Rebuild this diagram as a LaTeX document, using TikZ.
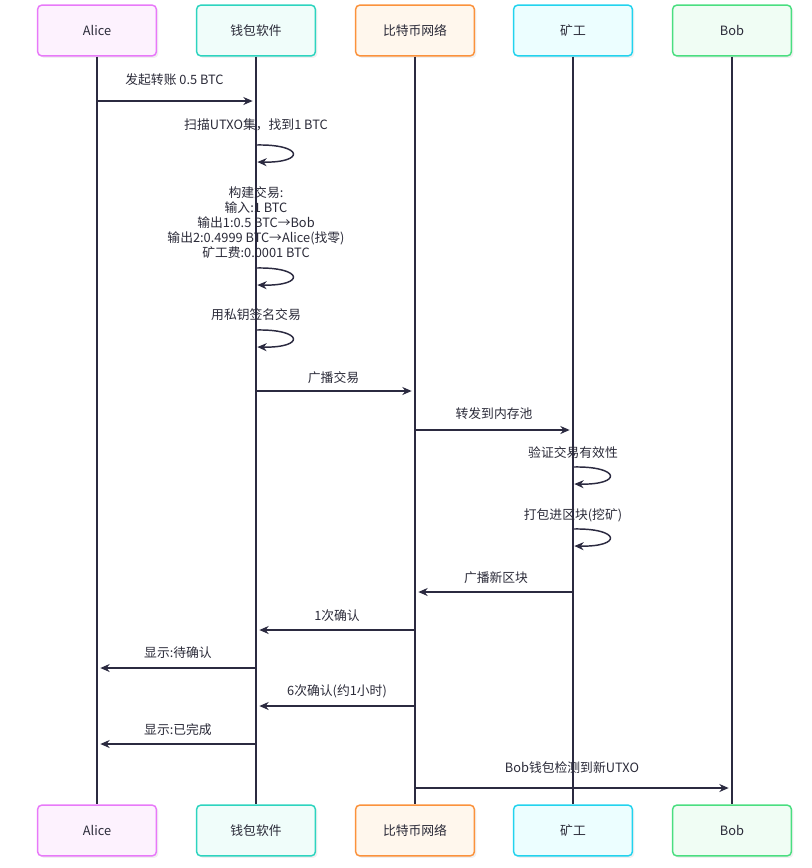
\documentclass[tikz,border=0pt]{standalone}
\usepackage{fontspec}
\setmainfont{Noto Sans CJK SC}
\usetikzlibrary{arrows.meta,shadows,calc}
\definecolor{lineC}{HTML}{2B2A40}
\definecolor{txtC}{HTML}{2A2A38}
\definecolor{aliceB}{HTML}{E879F9}\definecolor{aliceF}{HTML}{FDF2FE}
\definecolor{walB}{HTML}{2DD4BF}\definecolor{walF}{HTML}{F0FDFA}
\definecolor{netB}{HTML}{FB923C}\definecolor{netF}{HTML}{FFF7ED}
\definecolor{minB}{HTML}{22D3EE}\definecolor{minF}{HTML}{ECFEFF}
\definecolor{bobB}{HTML}{4ADE80}\definecolor{bobF}{HTML}{F0FDF4}
\begin{document}
\begin{tikzpicture}[x=0.75pt,y=-0.75pt,
  font=\fontsize{9.6}{11.25}\selectfont, text=txtC,
  actor/.style={draw=#1B, fill=#1F, rounded corners=3pt, line width=1.1pt,
    minimum width=89pt, minimum height=38pt, inner sep=0pt,
    drop shadow={shadow xshift=1.5pt, shadow yshift=-1.5pt, opacity=0.12}},
  life/.style={draw=lineC, line width=1.1pt},
  arr/.style={draw=lineC, line width=1.1pt, -{Stealth[length=7pt,width=6pt]}},
  msg/.style={align=center, inner sep=1pt}]
\useasboundingbox (0,0) rectangle (812,868);
% participants
\node[actor=alice] (aT) at (97,30.5) {Alice};
\node[actor=wal] (wT) at (256,30.5) {钱包软件};
\node[actor=net] (nT) at (415,30.5) {比特币网络};
\node[actor=min] (mT) at (573,30.5) {矿工};
\node[actor=bob] (bT) at (732,30.5) {Bob};
\node[actor=alice] (aB) at (97,830.5) {Alice};
\node[actor=wal] (wB) at (256,830.5) {钱包软件};
\node[actor=net] (nB) at (415,830.5) {比特币网络};
\node[actor=min] (mB) at (573,830.5) {矿工};
\node[actor=bob] (bB) at (732,830.5) {Bob};
\foreach \p in {a,w,n,m,b} \draw[life] (\p T.south) -- (\p B.north);
% messages
\node[msg] (t1) at (174.5,80) {发起转账 0.5 BTC};
\draw[arr] (aT |- 0,101) -- ([xshift=-2.5pt]wT |- 0,101);
\node[msg] (t2) at (256,125) {扫描UTXO集，找到1 BTC};
\draw[arr] (wT |- 0,145) .. controls +(48,-1) and +(48,1) .. ([xshift=1pt]wT |- 0,162);
\node[msg] (t3) at (256,222.5) {构建交易:\\输入:1 BTC\\输出1:0.5 BTC→Bob\\输出2:0.4999 BTC→Alice(找零)\\矿工费:0.0001 BTC};
\draw[arr] (wT |- 0,268) .. controls +(48,-1) and +(48,1) .. ([xshift=1pt]wT |- 0,285);
\node[msg] (t4) at (256,315) {用私钥签名交易};
\draw[arr] (wT |- 0,330) .. controls +(48,-1) and +(48,1) .. ([xshift=1pt]wT |- 0,347);
\node[msg] (t5) at (333.5,378) {广播交易};
\draw[arr] (wT |- 0,391) -- ([xshift=-2.5pt]nT |- 0,391);
\node[msg] (t6) at (494,414) {转发到内存池};
\draw[arr] (nT |- 0,430) -- ([xshift=-2.5pt]mT |- 0,430);
\node[msg] (t7) at (573,453) {验证交易有效性};
\draw[arr] (mT |- 0,467) .. controls +(48,-1) and +(48,1) .. ([xshift=1pt]mT |- 0,484);
\node[msg] (t8) at (573,515) {打包进区块(挖矿)};
\draw[arr] (mT |- 0,529) .. controls +(48,-1) and +(48,1) .. ([xshift=1pt]mT |- 0,546);
\node[msg] (t9) at (496,578) {广播新区块};
\draw[arr] (mT |- 0,592) -- ([xshift=2.5pt]nT |- 0,592);
\node[msg] (t10) at (337,616) {1次确认};
\draw[arr] (nT |- 0,630) -- ([xshift=2.5pt]wT |- 0,630);
\node[msg] (t11) at (178,653) {显示:待确认};
\draw[arr] (wT |- 0,668) -- ([xshift=2.5pt]aT |- 0,668);
\node[msg] (t12) at (337,691) {6次确认(约1小时)};
\draw[arr] (nT |- 0,706) -- ([xshift=2.5pt]wT |- 0,706);
\node[msg] (t13) at (178,730) {显示:已完成};
\draw[arr] (wT |- 0,744) -- ([xshift=2.5pt]aT |- 0,744);
\node[msg] (t14) at (572,768) {Bob钱包检测到新UTXO};
\draw[arr] (nT |- 0,788) -- ([xshift=-2.5pt]bT |- 0,788);
\end{tikzpicture}
\end{document}
